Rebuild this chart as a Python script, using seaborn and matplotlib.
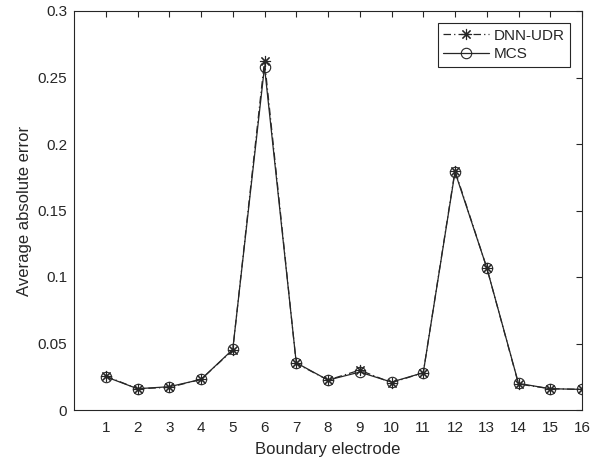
import matplotlib
matplotlib.use("Agg")
import matplotlib.pyplot as plt
import seaborn as sns
import numpy as np
import pandas as pd

electrodes = list(range(1, 17))
dnn_udr = [0.0255, 0.016, 0.017, 0.023, 0.045, 0.2625, 0.035, 0.0225, 0.030, 0.0205,
           0.028, 0.180, 0.107, 0.0195, 0.016, 0.0155]
mcs = [0.025, 0.016, 0.0175, 0.023, 0.0455, 0.258, 0.0355, 0.0225, 0.0285, 0.021,
       0.028, 0.179, 0.107, 0.020, 0.016, 0.0155]
yticks = [0, 0.05, 0.1, 0.15, 0.2, 0.25, 0.3]
yticklabels = ["0", "0.05", "0.1", "0.15", "0.2", "0.25", "0.3"]

sns.set_style("white")
plt.rcParams["font.family"] = ["Liberation Sans", "DejaVu Sans"]

fig = plt.figure(figsize=(6.02, 4.63), dpi=100)
ax = fig.add_axes([74/602, 1 - 410/463, (582-74)/602, (410-11)/463])

sns.lineplot(x=electrodes, y=dnn_udr, ax=ax, color="#262626", linewidth=0.9,
             linestyle=(0, (6, 2.5, 1, 2.5)), marker=(8, 2, 0), markersize=8,
             markeredgewidth=0.8, markeredgecolor="#262626", label="DNN-UDR")
sns.lineplot(x=electrodes, y=mcs, ax=ax, color="#262626", linewidth=0.9,
             linestyle="-", marker="o", markersize=7.5, markerfacecolor="none",
             markeredgewidth=0.8, markeredgecolor="#262626", label="MCS")

ax.set_xlim(0, 16)
ax.set_ylim(0, 0.3)
ax.set_xticks(electrodes)
ax.set_xticklabels([str(e) for e in electrodes])
ax.set_yticks(yticks)
ax.set_yticklabels(yticklabels)
ax.tick_params(direction="in", top=True, right=True, length=4.5, width=0.8,
               labelsize=11, colors="#262626")
ax.tick_params(axis="x", pad=8)
ax.tick_params(axis="y", pad=5)
for s in ax.spines.values():
    s.set_visible(True)
    s.set_color("#262626")
    s.set_linewidth(0.8)
ax.set_xlabel("Boundary electrode", fontsize=12, color="#262626", labelpad=5)
ax.set_ylabel("Average absolute error", fontsize=12, color="#262626", labelpad=4)

leg = ax.legend(loc="upper right", fontsize=11, frameon=True, fancybox=False,
                edgecolor="#262626", framealpha=1, borderaxespad=0.8,
                handlelength=3.0, borderpad=0.35, labelspacing=0.3, handletextpad=0.3)
leg.get_frame().set_linewidth(0.8)

fig.savefig("out.png", dpi=100)
